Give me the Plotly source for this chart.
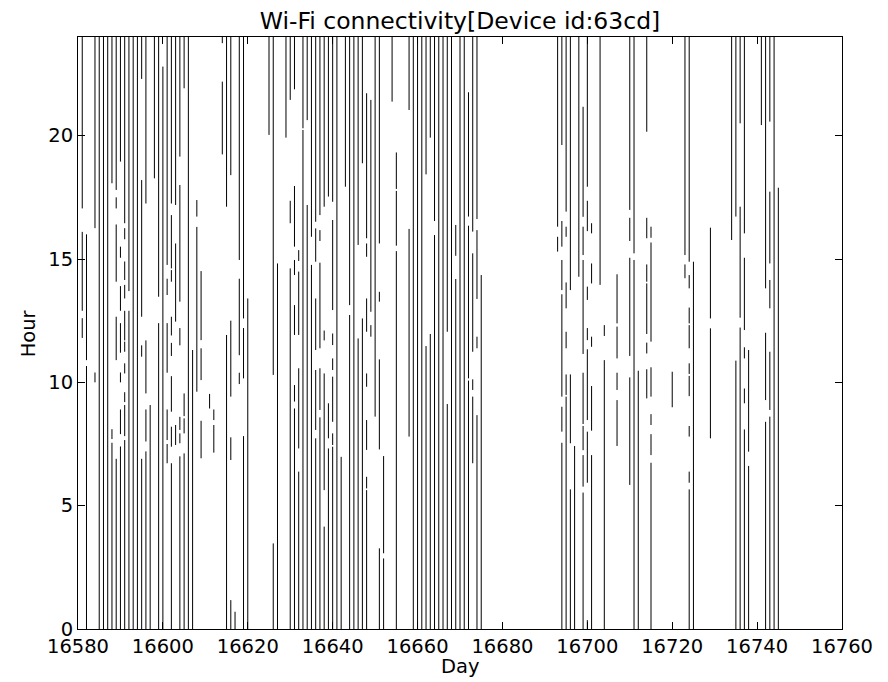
import plotly.graph_objects as go

# ---- data: each connectivity segment = (day, start hour, end hour) ----
seg_day = [
    16581, 16581, 16581,
    16582, 16582,
    16584, 16584,
    16585, 16586, 16587,
    16588, 16588, 16588,
    16589, 16589, 16589, 16589, 16589,
    16590, 16590, 16590, 16590, 16590, 16590, 16590,
    16591, 16591, 16591, 16591, 16591, 16591, 16591, 16591, 16591, 16591,
    16592, 16592,
    16593, 16594,
    16595, 16595, 16595, 16595,
    16596, 16596, 16596, 16596,
    16597, 16598,
    16599, 16599,
    16600,
    16601, 16601, 16601, 16601, 16601,
    16602, 16602, 16602, 16602, 16602, 16602, 16602, 16602,
    16603, 16603, 16603,
    16604, 16604, 16604, 16604, 16604, 16604,
    16605, 16605, 16605, 16605,
    16606, 16607,
    16608, 16608,
    16609, 16609, 16609,
    16611,
    16612, 16612,
    16614, 16614,
    16615, 16615,
    16616, 16616, 16616, 16616,
    16617,
    16618, 16618, 16618,
    16619, 16619, 16619,
    16620, 16625,
    16626, 16626,
    16627, 16629,
    16630, 16630, 16630,
    16631, 16631, 16631, 16631, 16631, 16631,
    16632, 16632, 16632, 16632,
    16633, 16633,
    16634, 16634,
    16635, 16635,
    16636, 16636, 16636, 16636, 16636,
    16637, 16637, 16637, 16637, 16637,
    16638, 16638, 16638, 16638,
    16639, 16639, 16639,
    16640, 16640, 16640, 16640, 16640, 16640, 16640,
    16641, 16642, 16643,
    16644, 16644,
    16645,
    16646, 16646,
    16647, 16647,
    16648, 16648, 16648, 16648, 16648, 16648, 16648,
    16649, 16649,
    16650,
    16651, 16651, 16651, 16651,
    16652, 16652,
    16654,
    16655, 16655, 16655,
    16658, 16658,
    16659, 16660, 16661,
    16662, 16662,
    16663, 16663,
    16664, 16664,
    16665, 16666,
    16667, 16667,
    16668,
    16669, 16669,
    16670, 16671,
    16672, 16672, 16672,
    16673, 16673, 16673, 16673,
    16674, 16674, 16674, 16674,
    16675,
    16693, 16693,
    16694, 16694, 16694, 16694, 16694, 16694,
    16695, 16695, 16695, 16695, 16695, 16695,
    16696, 16696, 16696,
    16697, 16698,
    16699, 16699, 16699, 16699, 16699, 16699, 16699,
    16700, 16700, 16700, 16700, 16700, 16700, 16700,
    16701, 16701, 16701, 16701, 16701,
    16703,
    16704, 16704,
    16707, 16707, 16707, 16707,
    16710, 16710, 16710, 16710,
    16711, 16711,
    16712,
    16714, 16714, 16714, 16714, 16714, 16714,
    16715, 16715, 16715, 16715, 16715, 16715,
    16720,
    16723, 16723,
    16724, 16724, 16724, 16724, 16724, 16724, 16724, 16724, 16724,
    16725,
    16729, 16729,
    16734,
    16735, 16735,
    16736, 16736, 16736,
    16737, 16737, 16737, 16737, 16737,
    16738, 16738,
    16741,
    16742, 16742, 16742,
    16743, 16743, 16743, 16743, 16743,
    16744, 16745,
]

seg_start = [
    17.05, 12.9, 11.8,
    10.9, 0,
    16.25, 10.0,
    0, 0, 0,
    18.07, 7.7, 0,
    17.8, 17.05, 14.08, 10.9, 0,
    18.95, 15.05, 12.9, 11.2, 10.0, 7.9, 0,
    16.45, 15.8, 14.15, 13.4, 11.7, 11.24, 10.36, 9.2, 7.82, 0,
    13.7, 0,
    0, 0,
    22.3, 12.66, 11.04, 0,
    17.25, 9.55, 7.6, 0,
    0, 18.27,
    13.47, 0,
    0,
    14.76, 13.54, 10.39, 7.66, 6.72,
    17.25, 14.62, 14.08, 11.9, 11.07, 8.81, 7.39, 0,
    17.19, 12.46, 7.46,
    19.15, 13.27, 11.5, 8.07, 7.53, 0,
    21.92, 8.63, 7.93, 0,
    0, 0,
    16.72, 9.62,
    11.71, 10.09, 6.92,
    8.94,
    8.47, 7.15,
    23.75, 19.24,
    17.12, 0,
    18.4, 9.42, 6.85, 0,
    0,
    14.96, 11.1, 9.93,
    12.59, 10.16, 0,
    0, 20.03,
    10.3, 0,
    0, 19.92,
    21.45, 16.45, 0,
    21.88, 15.5, 14.35, 11.92, 9.22, 0,
    14.92, 11.92, 7.32, 0,
    20.3, 0,
    20.63, 0,
    15.9, 0,
    16.51, 14.89, 11.31, 8.07, 0,
    16.78, 15.73, 11.38, 8.88, 0,
    17.12, 11.7, 5.63, 0,
    17.53, 7.73, 0,
    17.32, 12.93, 11.51, 10.5, 8.4, 7.46, 0,
    0, 0, 17.93,
    13.13, 0,
    0,
    15.57, 0,
    18.88, 0,
    15.84, 15.09, 12.05, 9.82, 7.26, 5.7, 0,
    12.86, 11.85,
    8.61,
    15.63, 13.27, 7.28, 0,
    3.07, 0,
    21.38,
    17.84, 15.54, 0,
    21.04, 7.8,
    0, 0, 0,
    18.43, 0,
    19.92, 0,
    16.54, 0,
    0, 0,
    12.05, 0,
    0,
    15.13, 0,
    0, 0,
    16.72, 10.16, 0,
    16.11, 11.24, 9.69, 6.72,
    16.62, 13.38, 11.38, 0,
    0,
    16.31, 15.3,
    19.62, 15.5, 13.74, 9.42, 8.0, 0,
    16.92, 15.9, 13.0, 11.38, 9.49, 0,
    13.74, 7.53, 0,
    0, 14.28,
    16.71, 15.16, 11.15, 8.31, 7.25, 5.77, 0,
    17.93, 16.13, 13.34, 11.71, 8.47, 5.93, 0,
    16.04, 14.01, 11.44, 8.04, 0,
    13.95,
    11.88, 0,
    12.39, 10.97, 9.69, 7.42,
    16.99, 15.73, 11.07, 5.84,
    15.23, 0,
    0,
    20.16, 15.84, 14.08, 11.96, 11.17, 9.35,
    15.86, 11.65, 9.42, 8.27, 7.05, 0,
    8.99,
    15.16, 14.22,
    14.89, 13.81, 12.39, 11.38, 10.34, 9.44, 7.8, 5.93, 0,
    0,
    12.59, 7.73,
    15.77,
    16.72, 0,
    20.5, 12.62, 0,
    16.04, 12.12, 10.97, 9.15, 0,
    7.19, 0,
    20.43,
    13.81, 9.28, 0,
    20.57, 14.82, 13.0, 8.88, 0,
    0, 0,
]

seg_end = [
    24, 16.1, 12.6,
    16.0, 10.66,
    24, 10.4,
    24, 24, 24,
    24, 8.1, 7.55,
    24, 17.5, 16.4, 12.66, 6.9,
    24, 15.5, 13.9, 12.4, 10.4, 8.9, 7.4,
    24, 16.25, 14.9, 13.95, 12.9, 11.65, 10.77, 9.6, 9.08, 7.66,
    24, 12.9,
    24, 24,
    24, 18.2, 11.5, 6.9,
    24, 11.7, 8.9, 7.2,
    9.08, 24,
    24, 12.4,
    22.8,
    24, 14.2, 12.4, 8.9, 7.5,
    24, 16.78, 14.55, 12.66, 11.6, 10.25, 8.2, 6.72,
    24, 15.63, 8.27,
    24, 18.0, 12.2, 8.6, 7.93, 7.0,
    24, 9.55, 8.54, 7.12,
    24, 11.31,
    17.39, 16.3,
    14.51, 11.38, 8.44,
    9.53,
    8.9, 8.27,
    24, 22.19,
    24, 11.92,
    24, 12.5, 7.77, 1.17,
    0.7,
    24, 14.2, 10.39,
    24, 12.2, 7.82,
    13.4, 24,
    24, 3.47,
    14.82, 24,
    24, 17.36, 14.62,
    24, 17.96, 14.96, 13.13, 9.89, 8.94,
    15.36, 14.49, 10.57, 6.38,
    24, 20.23,
    24, 17.19,
    24, 14.76,
    24, 16.24, 13.4, 10.5, 7.73,
    24, 16.17, 14.85, 10.57, 8.58,
    24, 12.1, 10.36, 4.15,
    24, 9.15, 7.32,
    24, 16.58, 11.98, 10.97, 10.23, 7.93, 7.39,
    24, 6.98, 24,
    24, 12.73,
    24,
    24, 11.78,
    24, 12.59,
    21.72, 15.63, 13.4, 10.36, 8.47, 6.17, 5.63,
    21.45, 12.32,
    24,
    24, 13.67, 10.93, 3.27,
    7.01, 2.86,
    24,
    19.32, 17.76, 15.32,
    24, 16.22,
    24, 24, 24,
    24, 11.47,
    24, 11.96,
    24, 15.97,
    24, 24,
    24, 9.12,
    24,
    16.38, 14.19,
    24, 24,
    21.76, 16.35, 10.07,
    24, 15.23, 10.12, 9.42,
    24, 16.17, 11.85, 8.67,
    14.35,
    24, 15.9,
    24, 16.54, 14.96, 13.57, 9.01, 7.55,
    24, 16.31, 14.05, 12.05, 10.32, 9.42,
    24, 10.32, 5.66,
    7.42, 24,
    21.17, 16.31, 14.96, 10.39, 8.23, 7.05, 5.53,
    24, 17.36, 13.88, 12.2, 11.34, 8.0, 0.36,
    16.45, 14.82, 11.85, 9.85, 7.05,
    24,
    12.32, 10.9,
    14.38, 12.26, 10.39, 9.28,
    24, 16.67, 15.05, 10.2,
    24, 14.96,
    10.47,
    24, 16.67, 14.78, 14.01, 11.61, 10.53,
    16.31, 15.67, 10.61, 8.71, 7.9, 6.74,
    10.43,
    24, 14.78,
    24, 14.35, 13.03, 12.32, 10.77, 10.26, 8.23, 6.38, 5.66,
    14.89,
    16.27, 12.19,
    24,
    24, 10.88,
    24, 17.12, 12.22,
    24, 15.05, 11.42, 9.75, 8.09,
    11.31, 6.61,
    24,
    24, 12.01, 8.4,
    24, 17.73, 14.15, 11.24, 8.61,
    24, 17.89,
]

x_ticks = list(range(16580, 16761, 20))
y_ticks = [0, 5, 10, 15, 20]
title_text = "Wi-Fi connectivity[Device id:63cd]"
x_label = "Day"
y_label = "Hour"

# ---- build vertical line segments ----
xs, ys = [], []
for d, a, b in zip(seg_day, seg_start, seg_end):
    xs += [d, d, None]
    ys += [a, b, None]

fig = go.Figure()
fig.add_trace(go.Scatter(
    x=xs, y=ys, mode="lines",
    line=dict(color="black", width=1),
    hoverinfo="skip", showlegend=False,
))

FONT = "DejaVu Sans"
TICK_SIZE = 19.5
axis_common = dict(
    showgrid=False, zeroline=False,
    showline=True, linecolor="black", linewidth=1, mirror="ticks",
    ticks="inside", ticklen=7, tickwidth=1, tickcolor="black",
    tickfont=dict(family=FONT, size=TICK_SIZE, color="black"),
)

fig.update_layout(
    width=888, height=682,
    margin=dict(l=78, r=46, t=37, b=53),
    paper_bgcolor="white", plot_bgcolor="white",
    title=dict(text=title_text, x=0.5, xref="paper", xanchor="center",
               y=1 - 21 / 682, yref="container", yanchor="middle",
               font=dict(family=FONT, size=23.5, color="black")),
    xaxis=dict(range=[16580, 16760], tickvals=x_ticks, tickformat="d",
               **axis_common),
    yaxis=dict(range=[0, 24], tickvals=y_ticks, tickformat="d",
               **axis_common),
    annotations=[
        dict(text=x_label, xref="paper", yref="paper", x=0.5, y=-0.064,
             xanchor="center", yanchor="middle", showarrow=False,
             font=dict(family=FONT, size=TICK_SIZE, color="black")),
        dict(text=y_label, xref="paper", yref="paper", x=-0.065, y=0.5,
             xanchor="center", yanchor="middle", showarrow=False,
             textangle=-90,
             font=dict(family=FONT, size=TICK_SIZE, color="black")),
    ],
)

fig.write_html("out.html")
